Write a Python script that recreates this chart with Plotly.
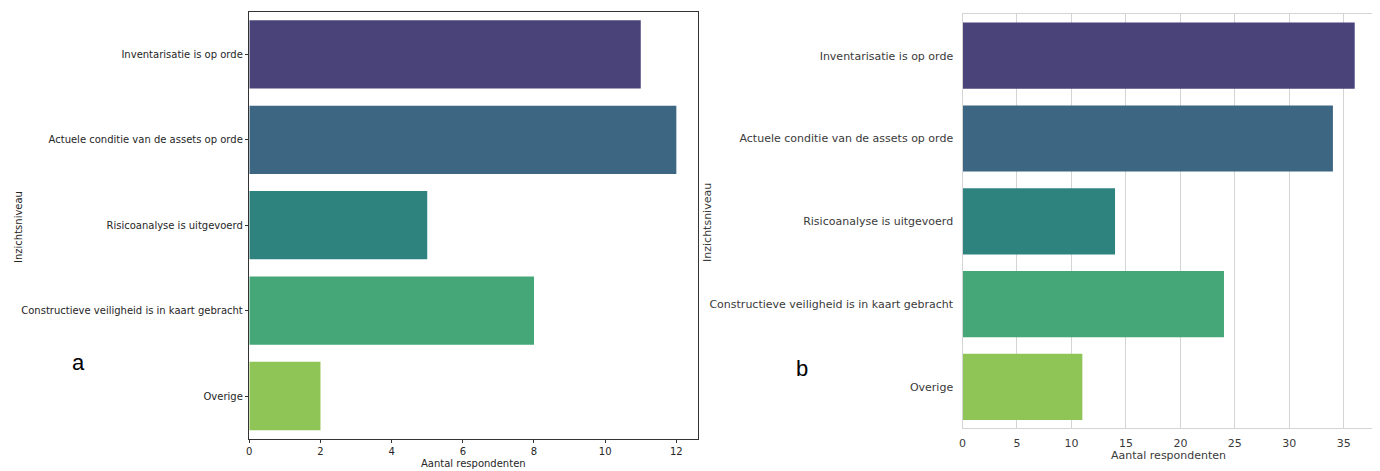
import colorsys
import plotly.graph_objects as go

categories = [
    "Inventarisatie is op orde",
    "Actuele conditie van de assets op orde",
    "Risicoanalyse is uitgevoerd",
    "Constructieve veiligheid is in kaart gebracht",
    "Overige",
]
values_a = [11, 12, 5, 8, 2]
values_b = [36, 34, 14, 24, 11]
x_ticks_a = [0, 2, 4, 6, 8, 10, 12]
x_ticks_b = [0, 5, 10, 15, 20, 25, 30, 35]
y_title = "Inzichtsniveau"
x_title = "Aantal respondenten"

base_viridis = ["#433a83", "#31688e", "#21918c", "#35b779", "#8fd744"]


def desat(hexc, prop=0.75):
    r, g, b = (int(hexc[i:i + 2], 16) / 255 for i in (1, 3, 5))
    h, l, s = colorsys.rgb_to_hls(r, g, b)
    r, g, b = colorsys.hls_to_rgb(h, l, s * prop)
    return "#%02x%02x%02x" % (round(r * 255), round(g * 255), round(b * 255))


colors = [desat(c) for c in base_viridis]

OFF = 8  # page body margin
W, H = 1380 - OFF, 471 - OFF


def px(x):
    return (x - OFF) / W


def py(y):
    return 1 - (y - OFF) / H


fig = go.Figure()
fig.add_trace(go.Bar(x=values_a, y=categories, orientation="h",
                     marker=dict(color=colors, line=dict(width=0)),
                     xaxis="x", yaxis="y", showlegend=False))
fig.add_trace(go.Bar(x=values_b, y=categories, orientation="h",
                     marker=dict(color=colors, line=dict(width=0)),
                     xaxis="x2", yaxis="y2", showlegend=False))

dark = "#333333"
light = "#d4d4d4"
font_l = dict(family="DejaVu Sans", size=10, color="#262626")
font_r = dict(family="DejaVu Sans", size=11, color="#3a3a3a")

fig.update_layout(
    width=W, height=H,
    margin=dict(l=0, r=0, t=0, b=0),
    paper_bgcolor="white", plot_bgcolor="white",
    bargap=0.2,
    xaxis=dict(domain=[px(246), px(695.7)], anchor="y", range=[0, 12.6],
               tickvals=x_ticks_a, ticks="outside", ticklen=3.5, tickcolor=dark,
               showline=True, mirror=True, linecolor=dark, linewidth=1,
               showgrid=False, zeroline=False, tickfont=font_l),
    yaxis=dict(domain=[py(438.7), py(11.7)], anchor="x", range=[4.5, -0.5],
               type="category", ticks="outside", ticklen=3.5, tickcolor=dark,
               showline=True, mirror=True, linecolor=dark, linewidth=1,
               showgrid=False, zeroline=False, tickfont=font_l),
    xaxis2=dict(domain=[px(961.3), px(1374.3)], anchor="y2", range=[0, 37.8],
                tickvals=x_ticks_b, ticks="", showline=True, mirror=True,
                linecolor=light, linewidth=1.3, showgrid=True,
                gridcolor=light, gridwidth=1.3, zeroline=False, tickfont=font_r,
                ticklabelstandoff=4),
    yaxis2=dict(domain=[py(428.3), py(14.3)], anchor="x2", range=[4.5, -0.5],
                type="category", ticks="", showline=True, mirror=True,
                linecolor=light, linewidth=1.3, showgrid=False, zeroline=False,
                tickfont=font_r, ticklabelstandoff=6),
    annotations=[
        dict(text=x_title, x=px(471), y=py(463), xref="paper", yref="paper",
             showarrow=False, font=font_l, xanchor="center", yanchor="middle"),
        dict(text=x_title, x=px(1167.5), y=py(455), xref="paper", yref="paper",
             showarrow=False, font=font_r, xanchor="center", yanchor="middle"),
        dict(text=y_title, x=px(14), y=py(227), xref="paper", yref="paper",
             showarrow=False, font=font_l, textangle=-90,
             xanchor="center", yanchor="middle"),
        dict(text=y_title, x=px(705), y=py(222), xref="paper", yref="paper",
             showarrow=False, font=font_r, textangle=-90,
             xanchor="center", yanchor="middle"),
        dict(text="a", x=px(75), y=py(362), xref="paper", yref="paper",
             showarrow=False, font=dict(family="Liberation Sans", size=22, color="black"),
             xanchor="center", yanchor="middle"),
        dict(text="b", x=px(800), y=py(368), xref="paper", yref="paper",
             showarrow=False, font=dict(family="Liberation Sans", size=22, color="black"),
             xanchor="center", yanchor="middle"),
    ],
)

fig.write_html("out.html")
